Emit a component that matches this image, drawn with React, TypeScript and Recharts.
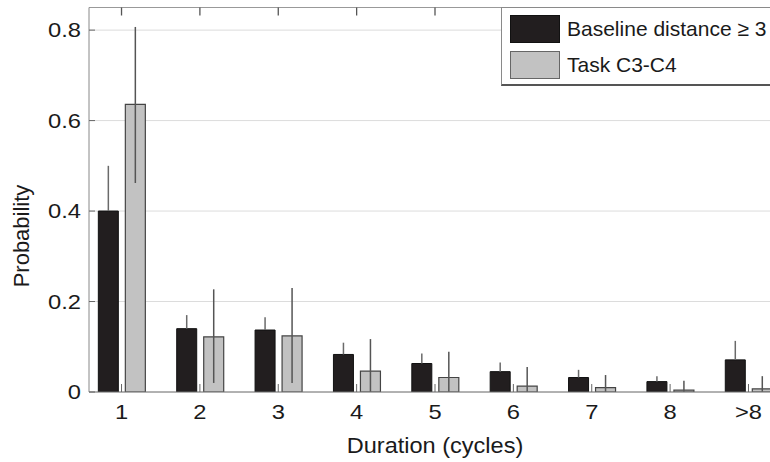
import React from 'react';
import { BarChart, Bar, XAxis, YAxis, CartesianGrid, ErrorBar, Legend, Label } from 'recharts';

const categories = ['1', '2', '3', '4', '5', '6', '7', '8', '>8'];
const xPositions = [1, 2, 3, 4, 5, 6, 7, 8, 9];
const baseline = [0.4, 0.14, 0.137, 0.083, 0.063, 0.045, 0.032, 0.023, 0.071];
const baselineErrUp = [0.1, 0.03, 0.028, 0.026, 0.022, 0.02, 0.017, 0.012, 0.042];
const task = [0.636, 0.122, 0.124, 0.046, 0.032, 0.013, 0.0095, 0.004, 0.007];
const taskErrUp = [0.171, 0.105, 0.106, 0.071, 0.057, 0.042, 0.028, 0.021, 0.028];
const taskErrDown = [0.174, 0.102, 0.104, 0.046, 0.032, 0.013, 0.0095, 0.004, 0.007];
const yTicks = [0, 0.2, 0.4, 0.6, 0.8];
const seriesNames = ['Baseline distance \u2265 3', 'Task C3-C4'];

const data = xPositions.map((x, i) => ({
  x,
  baseline: baseline[i],
  baselineErr: [0, baselineErrUp[i]],
  task: task[i],
  taskErr: [taskErrDown[i], taskErrUp[i]],
}));

const FONT = '"Liberation Sans", Arial, Helvetica, sans-serif';
const BLACK = '#221e1f';
const GRAY = '#c2c2c2';
const TEXT = '#1a1a1a';
const SX = 1.13;

const YTick = (props: any) => {
  const { x, y, payload } = props;
  const v = payload.value;
  return (
    <text
      transform={`translate(${x},${y}) scale(${SX},1)`}
      textAnchor="end"
      dominantBaseline="central"
      fontSize={21}
      fontFamily={FONT}
      fill={TEXT}
    >
      {v === 0 ? '0' : String(v)}
    </text>
  );
};

const XTick = (props: any) => {
  const { x, y, payload } = props;
  return (
    <text
      transform={`translate(${x},${y + 20}) scale(${SX},1)`}
      textAnchor="middle"
      fontSize={21}
      fontFamily={FONT}
      fill={TEXT}
    >
      {categories[xPositions.indexOf(payload.value)]}
    </text>
  );
};

const EmptyTick = () => <g />;

const LegendBox = () => (
  <div
    style={{
      position: 'relative',
      width: 300,
      height: 79,
      boxSizing: 'border-box',
      border: '1px solid #8a8a8a',
      borderBottom: '2px solid #555',
      background: '#fff',
      fontFamily: FONT,
      fontSize: 21,
      color: TEXT,
    }}
  >
    {seriesNames.map((name, i) => (
      <div key={name} style={{ position: 'absolute', left: 8, top: 7 + i * 36, height: 28, display: 'flex', alignItems: 'center' }}>
        <div
          style={{
            width: 50,
            height: 28,
            boxSizing: 'border-box',
            background: i === 0 ? BLACK : GRAY,
            border: i === 0 ? '1px solid #111' : '1px solid #666',
          }}
        />
        <span style={{ marginLeft: 7, whiteSpace: 'nowrap' }}>{name}</span>
      </div>
    ))}
  </div>
);

export default function App() {
  return (
    <div style={{ position: 'absolute', left: 0, top: 0, width: 770, height: 462, overflow: 'hidden', background: '#fff' }}>
      <BarChart
        width={800}
        height={462}
        data={data}
        margin={{ top: 6.5, right: 19, bottom: 0, left: 0 }}
        barSize={20}
        barGap={7}
        style={{ fontFamily: FONT }}
      >
        <CartesianGrid horizontal vertical={false} stroke="#dcdcdc" />
        <XAxis
          dataKey="x"
          type="number"
          domain={[0.585, 9.415]}
          ticks={xPositions}
          interval={0}
          allowDataOverflow
          height={70}
          tickSize={-8}
          tickMargin={15}
          axisLine={{ stroke: '#777', strokeWidth: 1.2 }}
          tickLine={{ stroke: '#666' }}
          tick={<XTick />}
        >
          <Label
            content={(props: any) => {
              const vb = props.viewBox || { x: 89, y: 392, width: 692 };
              const cx = vb.x + vb.width / 2;
              const cy = vb.y + 53;
              return (
                <text
                  transform={`translate(${cx},${cy}) scale(1.07,1)`}
                  textAnchor="middle"
                  dominantBaseline="central"
                  fontSize={22}
                  fontFamily={FONT}
                  fill={TEXT}
                >
                  Duration (cycles)
                </text>
              );
            }}
          />
        </XAxis>
        <XAxis
          xAxisId="top"
          orientation="top"
          dataKey="x"
          type="number"
          domain={[0.585, 9.415]}
          ticks={xPositions}
          interval={0}
          allowDataOverflow
          height={1}
          tickSize={-8}
          tick={<EmptyTick />}
          axisLine={{ stroke: '#999' }}
          tickLine={{ stroke: '#555', strokeWidth: 1.3 }}
        />
        <YAxis
          type="number"
          domain={[0, 0.85]}
          ticks={yTicks}
          interval={0}
          allowDataOverflow
          width={89}
          tickSize={-6}
          tickMargin={14}
          axisLine={{ stroke: '#888' }}
          tickLine={{ stroke: '#666' }}
          tick={<YTick />}
        >
          <Label
            content={() => (
              <text
                x={21}
                y={236}
                transform="rotate(-90 21 236)"
                textAnchor="middle"
                dominantBaseline="central"
                fontSize={22}
                fontFamily={FONT}
                fill={TEXT}
              >
                Probability
              </text>
            )}
          />
        </YAxis>
        <Legend
          layout="horizontal"
          verticalAlign="middle"
          align="center"
          wrapperStyle={{ left: 501, top: 7, width: 300, height: 80 }}
          content={() => <LegendBox />}
        />
        <Bar dataKey="baseline" name={seriesNames[0]} fill={BLACK} stroke="#111" strokeWidth={1} isAnimationActive={false}>
          <ErrorBar dataKey="baselineErr" width={0} stroke="#6a6a6a" strokeWidth={1.5} direction="y" />
        </Bar>
        <Bar dataKey="task" name={seriesNames[1]} fill={GRAY} stroke="#444" strokeWidth={1.2} isAnimationActive={false}>
          <ErrorBar dataKey="taskErr" width={0} stroke="#555" strokeWidth={1.5} direction="y" />
        </Bar>
      </BarChart>
    </div>
  );
}
